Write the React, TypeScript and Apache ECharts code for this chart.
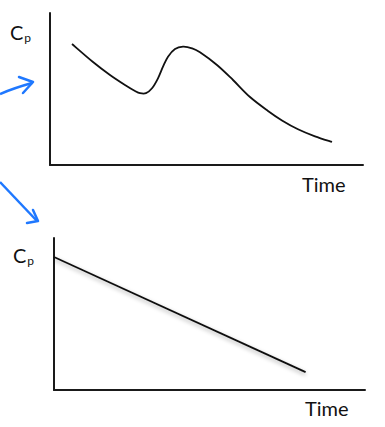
import React, { useEffect, useRef } from "react";
import * as echarts from "echarts";

const topTime = [7.03, 13.74, 19.17, 23.96, 27.16, 28.75, 30.67, 32.59, 34.5, 36.1, 37.7, 39.94, 42.49, 45.37, 47.92, 53.35, 58.47, 63.9, 69.65, 74.12, 79.23, 84.66, 90.1];
const topConc = [79.61, 67.76, 59.21, 52.63, 48.68, 47.24, 47.24, 50.46, 57.04, 64.67, 71.25, 76.32, 77.83, 76.78, 74.14, 65.79, 55.92, 44.74, 35.59, 29.34, 23.55, 18.88, 15.2];
const bottomTime = [0, 80.9];
const bottomConc = [87.5, 11.8];

const xLabel = "Time";
const yLabel = "C";
const ySub = "p";

function splinePath(pts: number[][]): string {
  let d = `M${pts[0][0]},${pts[0][1]}`;
  for (let i = 0; i < pts.length - 1; i++) {
    const p0 = pts[i - 1] || pts[i];
    const p1 = pts[i];
    const p2 = pts[i + 1];
    const p3 = pts[i + 2] || p2;
    const c1x = p1[0] + (p2[0] - p0[0]) / 6;
    const c1y = p1[1] + (p2[1] - p0[1]) / 6;
    const c2x = p2[0] - (p3[0] - p1[0]) / 6;
    const c2y = p2[1] - (p3[1] - p1[1]) / 6;
    d += ` C${c1x},${c1y} ${c2x},${c2y} ${p2[0]},${p2[1]}`;
  }
  return d;
}

export default function App() {
  const ref = useRef<HTMLDivElement>(null);
  useEffect(() => {
    document.body.style.margin = "0";
    const chart = echarts.init(ref.current!, null, { renderer: "svg" });
    const axisLine = { show: true, lineStyle: { color: "#1a1a1a", width: 2 } };
    const xAx = (gi: number) => ({
      type: "value", gridIndex: gi, min: 0, max: 100,
      axisLine: { ...axisLine, onZero: false }, axisTick: { show: false },
      axisLabel: { show: false }, splitLine: { show: false },
    });
    const yAx = (gi: number) => ({
      type: "value", gridIndex: gi, min: 0, max: 100,
      axisLine, axisTick: { show: false },
      axisLabel: { show: false }, splitLine: { show: false },
    });
    const font = "Lato, 'Open Sans', sans-serif";
    const cp = (x: number, y: number) => ({
      type: "text", left: x, top: y,
      style: {
        text: `{c|${yLabel}}{s|${ySub}}`,
        rich: {
          c: { fontSize: 20, fontFamily: font, fill: "#111" },
          s: { fontSize: 12, fontFamily: font, fill: "#111", padding: [11, 0, 0, 1] },
        },
      },
    });
    const arrowColor = "#1f78ff";
    chart.setOption({
      animation: false,
      backgroundColor: "#fff",
      grid: [
        { left: 50, top: 13, width: 313, height: 152 },
        { left: 54, top: 238, width: 311, height: 152 },
      ],
      xAxis: [xAx(0), xAx(1)],
      yAxis: [yAx(0), yAx(1)],
      series: [
        {
          type: "custom", xAxisIndex: 0, yAxisIndex: 0,
          coordinateSystem: "cartesian2d",
          encode: { x: 0, y: 1 },
          data: topTime.map((t, i) => [t, topConc[i]]),
          renderItem: (params: any, api: any) => {
            if (params.dataIndex !== 0) return null;
            const pts = topTime.map((t, i) => api.coord([t, topConc[i]]));
            return {
              type: "path",
              shape: { pathData: splinePath(pts) },
              style: { stroke: "#111", lineWidth: 1.8, fill: "none" },
            };
          },
        },
        {
          type: "line", xAxisIndex: 1, yAxisIndex: 1, showSymbol: false,
          lineStyle: { color: "#111", width: 1.8, shadowBlur: 4, shadowColor: "rgba(0,0,0,0.35)", shadowOffsetY: 2 },
          data: bottomTime.map((t, i) => [t, bottomConc[i]]),
        },
      ],
      graphic: [
        { type: "text", left: 302, top: 174, style: { text: xLabel, fontSize: 20, fontFamily: font, fill: "#111" } },
        { type: "text", left: 305, top: 398, style: { text: xLabel, fontSize: 20, fontFamily: font, fill: "#111" } },
        cp(10, 22),
        cp(13, 245),
        {
          type: "bezierCurve",
          shape: { x1: 0, y1: 94, x2: 32, y2: 83, cpx1: 14, cpy1: 88 },
          style: { stroke: arrowColor, lineWidth: 2.5, fill: "none" },
        },
        {
          type: "polyline",
          shape: { points: [[19, 77], [33, 82], [23, 93]] },
          style: { stroke: arrowColor, lineWidth: 2.5, fill: "none", lineJoin: "round", lineCap: "round" },
        },
        {
          type: "line",
          shape: { x1: 0, y1: 182, x2: 37, y2: 221 },
          style: { stroke: arrowColor, lineWidth: 2.5 },
        },
        {
          type: "polyline",
          shape: { points: [[33, 210], [38, 221], [27, 223]] },
          style: { stroke: arrowColor, lineWidth: 2.5, fill: "none", lineJoin: "round", lineCap: "round" },
        },
      ],
    });
    return () => chart.dispose();
  }, []);
  return <div ref={ref} style={{ width: 385, height: 427 }} />;
}
